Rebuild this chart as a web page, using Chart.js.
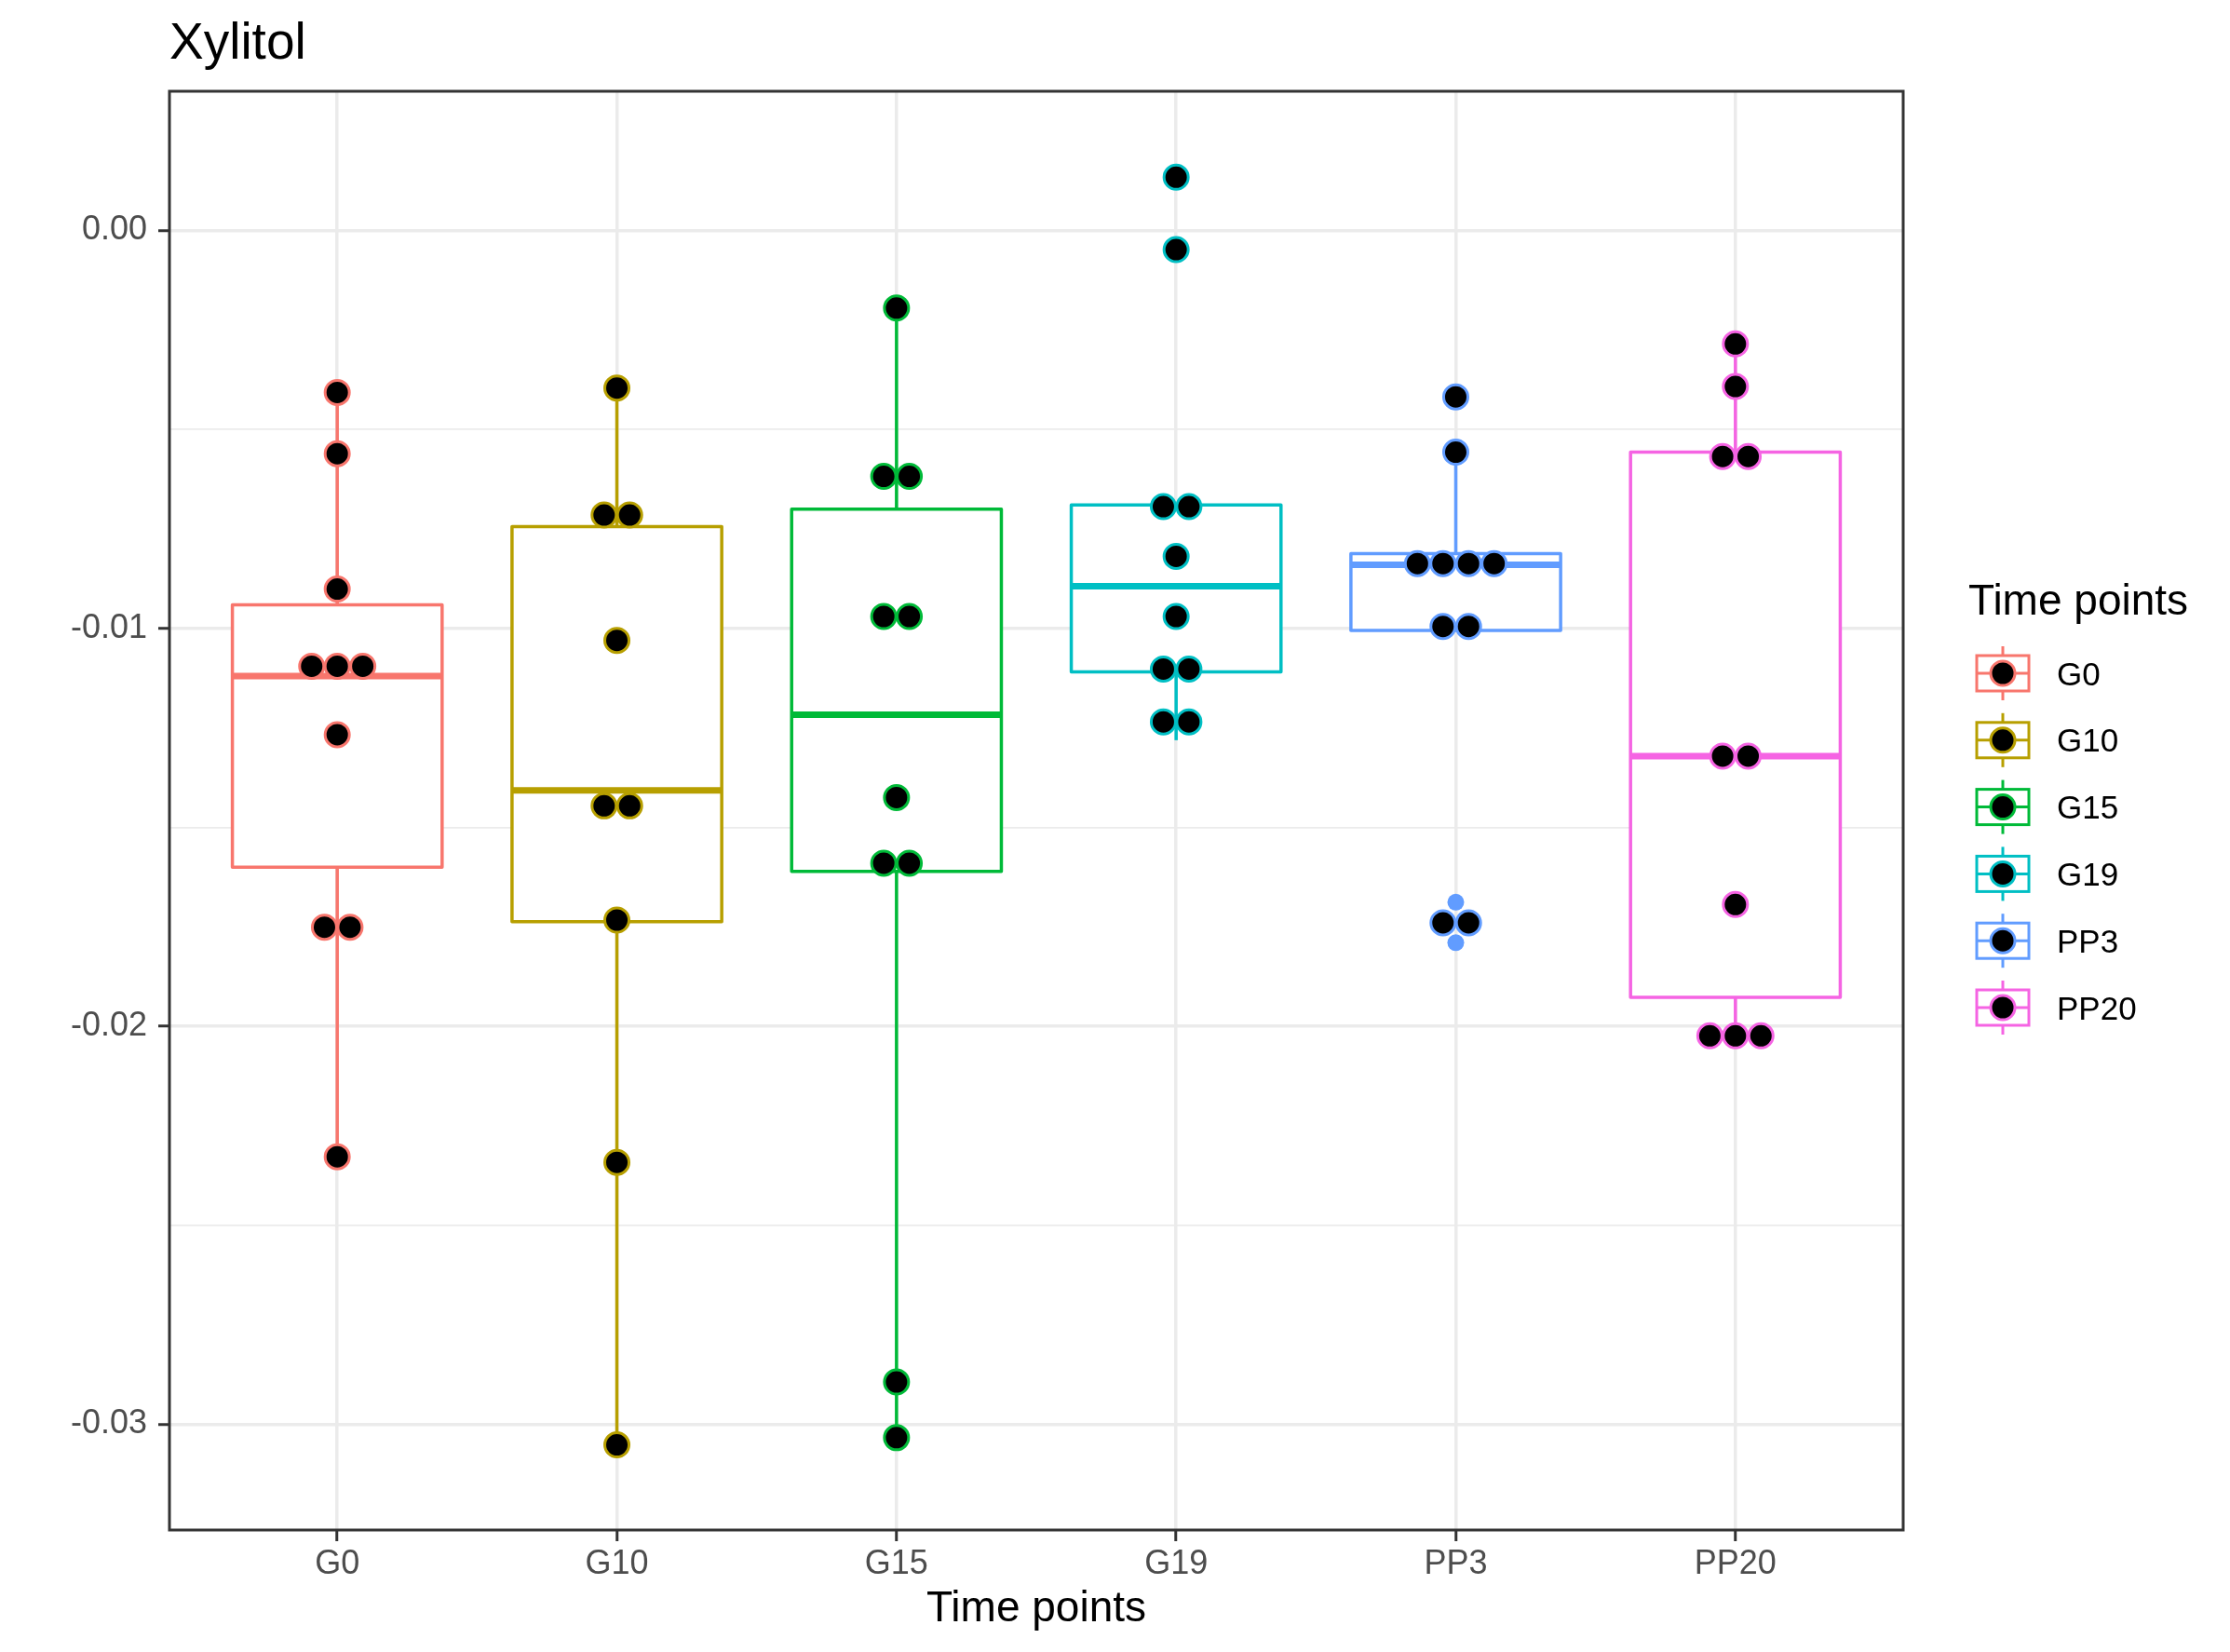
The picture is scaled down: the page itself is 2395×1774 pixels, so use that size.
<!DOCTYPE html>
<html>
<head>
<meta charset="utf-8">
<script src="https://cdn.jsdelivr.net/npm/chart.js@4.4.1/dist/chart.umd.min.js"></script>
<style>
  html, body { margin: 0; padding: 0; background: #ffffff; }
</style>
</head>
<body>
<canvas id="chart" width="2395" height="1774"></canvas>
<script>
// Kategorien und Farben (ggplot hue palette)
const categories = ['G0', 'G10', 'G15', 'G19', 'PP3', 'PP20'];
const groupColors = ['#F8766D', '#B79F00', '#00BA38', '#00BFC4', '#619CFF', '#F564E3'];

// Einzelwerte pro Gruppe (dotplot)
const g0Values   = [-0.00407, -0.00561, -0.00901, -0.01095, -0.01095, -0.01095, -0.01267, -0.01751, -0.01751, -0.02328];
const g10Values  = [-0.00396, -0.00715, -0.00715, -0.01030, -0.01446, -0.01446, -0.01733, -0.02342, -0.03052];
const g15Values  = [-0.00195, -0.00618, -0.00618, -0.00970, -0.00970, -0.01425, -0.01590, -0.01590, -0.02894, -0.03034];
const g19Values  = [0.00134, -0.00048, -0.00694, -0.00694, -0.00819, -0.00970, -0.01102, -0.01102, -0.01235, -0.01235];
const pp3Values  = [-0.00418, -0.00557, -0.00837, -0.00837, -0.00837, -0.00837, -0.00995, -0.00995, -0.01740, -0.01740];
const pp20Values = [-0.00285, -0.00392, -0.00568, -0.00568, -0.01321, -0.01321, -0.01694, -0.02024, -0.02024, -0.02024];
const groupValues = [g0Values, g10Values, g15Values, g19Values, pp3Values, pp20Values];

// Boxplot-Kennwerte
const q1Values      = [-0.01600, -0.01737, -0.01611, -0.01109, -0.01005, -0.01927];
const medianValues  = [-0.01120, -0.01407, -0.01217, -0.00894, -0.00840, -0.01321];
const q3Values      = [-0.00941, -0.00744, -0.00700, -0.00690, -0.00812, -0.00557];
const whiskerLow    = [-0.02328, -0.03052, -0.03034, -0.01281, -0.01005, -0.02024];
const whiskerHigh   = [-0.00407, -0.00396, -0.00195, -0.00690, -0.00557, -0.00285];
const outlierValues = [[], [], [], [0.00134, -0.00048], [-0.00418, -0.01688, -0.01790], []];

// Achsen
const yMajorTicks = [0, -0.01, -0.02, -0.03];
const yMinorTicks = [-0.005, -0.015, -0.025];
const yMin = -0.03266;
const yMax = 0.0035;

const FONT = '"Liberation Sans", Arial, Helvetica, sans-serif';
const DOT_STEP = 0.0914;   // Abstand gestapelter Punkte in x-Einheiten
const BOX_HALF = 0.375;    // halbe Boxbreite

// Punkte mit gleichem Wert nebeneinander stapeln
function stackPoints(values, i) {
  const counts = {};
  values.forEach(v => { counts[v] = (counts[v] || 0) + 1; });
  const seen = {};
  return values.map(v => {
    const k = counts[v];
    const j = seen[v] || 0;
    seen[v] = j + 1;
    return { x: i + (j - (k - 1) / 2) * DOT_STEP, y: v };
  });
}

const datasets = [];
// Ausreisser (Boxplot) zuerst, liegen unter den Punkten
outlierValues.forEach((vals, i) => {
  if (!vals.length) return;
  datasets.push({
    label: categories[i] + ' outliers',
    data: vals.map(v => ({ x: i, y: v })),
    pointRadius: 9,
    pointBorderWidth: 0,
    backgroundColor: groupColors[i],
    borderColor: groupColors[i],
    order: 2
  });
});
groupValues.forEach((vals, i) => {
  datasets.push({
    label: categories[i],
    data: stackPoints(vals, i),
    pointRadius: 13,
    pointBorderWidth: 3,
    backgroundColor: '#000000',
    borderColor: groupColors[i],
    order: 1
  });
});

// Boxen und Whisker zeichnen
const boxPlugin = {
  id: 'boxes',
  beforeDatasetsDraw(chart) {
    const { ctx, chartArea } = chart;
    const xs = chart.scales.x, ys = chart.scales.y;
    ctx.save();
    ctx.beginPath();
    ctx.rect(chartArea.left, chartArea.top, chartArea.right - chartArea.left, chartArea.bottom - chartArea.top);
    ctx.clip();
    categories.forEach((c, i) => {
      const x = xs.getPixelForValue(i);
      const x0 = xs.getPixelForValue(i - BOX_HALF);
      const x1 = xs.getPixelForValue(i + BOX_HALF);
      const yq1 = ys.getPixelForValue(q1Values[i]);
      const yq3 = ys.getPixelForValue(q3Values[i]);
      const ymed = ys.getPixelForValue(medianValues[i]);
      const ylo = ys.getPixelForValue(whiskerLow[i]);
      const yhi = ys.getPixelForValue(whiskerHigh[i]);
      ctx.strokeStyle = groupColors[i];
      ctx.lineWidth = 3.5;
      ctx.beginPath();
      ctx.moveTo(x, yq3); ctx.lineTo(x, yhi);
      ctx.moveTo(x, yq1); ctx.lineTo(x, ylo);
      ctx.stroke();
      ctx.fillStyle = '#ffffff';
      ctx.fillRect(x0, yq3, x1 - x0, yq1 - yq3);
      ctx.lineJoin = 'round';
      ctx.strokeRect(x0, yq3, x1 - x0, yq1 - yq3);
      ctx.lineWidth = 7;
      ctx.beginPath();
      ctx.moveTo(x0, ymed); ctx.lineTo(x1, ymed);
      ctx.stroke();
    });
    ctx.restore();
  },
  afterDatasetsDraw(chart) {
    const { ctx, chartArea } = chart;
    ctx.save();
    ctx.strokeStyle = '#333333';
    ctx.lineWidth = 3;
    ctx.strokeRect(chartArea.left, chartArea.top, chartArea.right - chartArea.left, chartArea.bottom - chartArea.top);
    ctx.restore();
  }
};

// Titel, Achsentitel und Legende
const textPlugin = {
  id: 'texts',
  afterDraw(chart) {
    const { ctx, chartArea } = chart;
    ctx.save();
    ctx.fillStyle = '#000000';
    ctx.textBaseline = 'alphabetic';
    ctx.textAlign = 'left';
    ctx.font = '55px ' + FONT;
    ctx.fillText('Xylitol', chartArea.left, 63);

    ctx.font = '46px ' + FONT;
    ctx.textAlign = 'center';
    ctx.fillText('Time points', (chartArea.left + chartArea.right) / 2, 1741);

    ctx.textAlign = 'left';
    ctx.fillText('Time points', 2114, 660);

    const cx = 2151;
    categories.forEach((c, i) => {
      const cy = 723 + i * 71.8;
      ctx.strokeStyle = groupColors[i];
      ctx.lineWidth = 3;
      ctx.beginPath();
      ctx.moveTo(cx, cy - 29); ctx.lineTo(cx, cy + 29);
      ctx.stroke();
      ctx.fillStyle = '#ffffff';
      ctx.fillRect(cx - 28, cy - 19, 56, 38);
      ctx.strokeRect(cx - 28, cy - 19, 56, 38);
      ctx.beginPath();
      ctx.moveTo(cx - 28, cy); ctx.lineTo(cx + 28, cy);
      ctx.stroke();
      ctx.beginPath();
      ctx.arc(cx, cy, 13, 0, Math.PI * 2);
      ctx.fillStyle = '#000000';
      ctx.fill();
      ctx.stroke();
      ctx.fillStyle = '#000000';
      ctx.font = '35px ' + FONT;
      ctx.fillText(c, 2209, cy + 12.5);
    });
    ctx.restore();
  }
};

const isMajor = v => yMajorTicks.includes(v);

new Chart(document.getElementById('chart'), {
  type: 'scatter',
  data: { datasets: datasets },
  plugins: [boxPlugin, textPlugin],
  options: {
    responsive: false,
    animation: false,
    layout: { padding: { left: 0, top: 98, right: 351, bottom: 0 } },
    plugins: { legend: { display: false }, tooltip: { enabled: false }, title: { display: false } },
    scales: {
      x: {
        type: 'linear',
        min: -0.6,
        max: 5.6,
        afterBuildTicks: s => { s.ticks = categories.map((c, i) => ({ value: i })); },
        afterFit: s => { s.height = 131; },
        ticks: {
          callback: v => categories[v],
          font: { family: FONT, size: 36 },
          color: '#4D4D4D',
          padding: 3,
          maxRotation: 0,
          autoSkip: false
        },
        grid: { color: '#EBEBEB', lineWidth: 3.5, tickColor: '#333333', tickLength: 12, tickWidth: 3 },
        border: { display: false }
      },
      y: {
        type: 'linear',
        min: yMin,
        max: yMax,
        afterBuildTicks: s => {
          s.ticks = yMajorTicks.concat(yMinorTicks).sort((a, b) => a - b).map(v => ({ value: v }));
        },
        afterFit: s => { s.width = 182; },
        ticks: {
          callback: v => isMajor(v) ? v.toFixed(2) : '',
          font: { family: FONT, size: 36 },
          color: '#4D4D4D',
          padding: 12,
          autoSkip: false
        },
        grid: {
          color: '#EBEBEB',
          lineWidth: ctx => isMajor(ctx.tick.value) ? 3.5 : 1.75,
          tickColor: ctx => isMajor(ctx.tick.value) ? '#333333' : 'rgba(0,0,0,0)',
          tickLength: 12,
          tickWidth: 3
        },
        border: { display: false }
      }
    }
  }
});
</script>
</body>
</html>
